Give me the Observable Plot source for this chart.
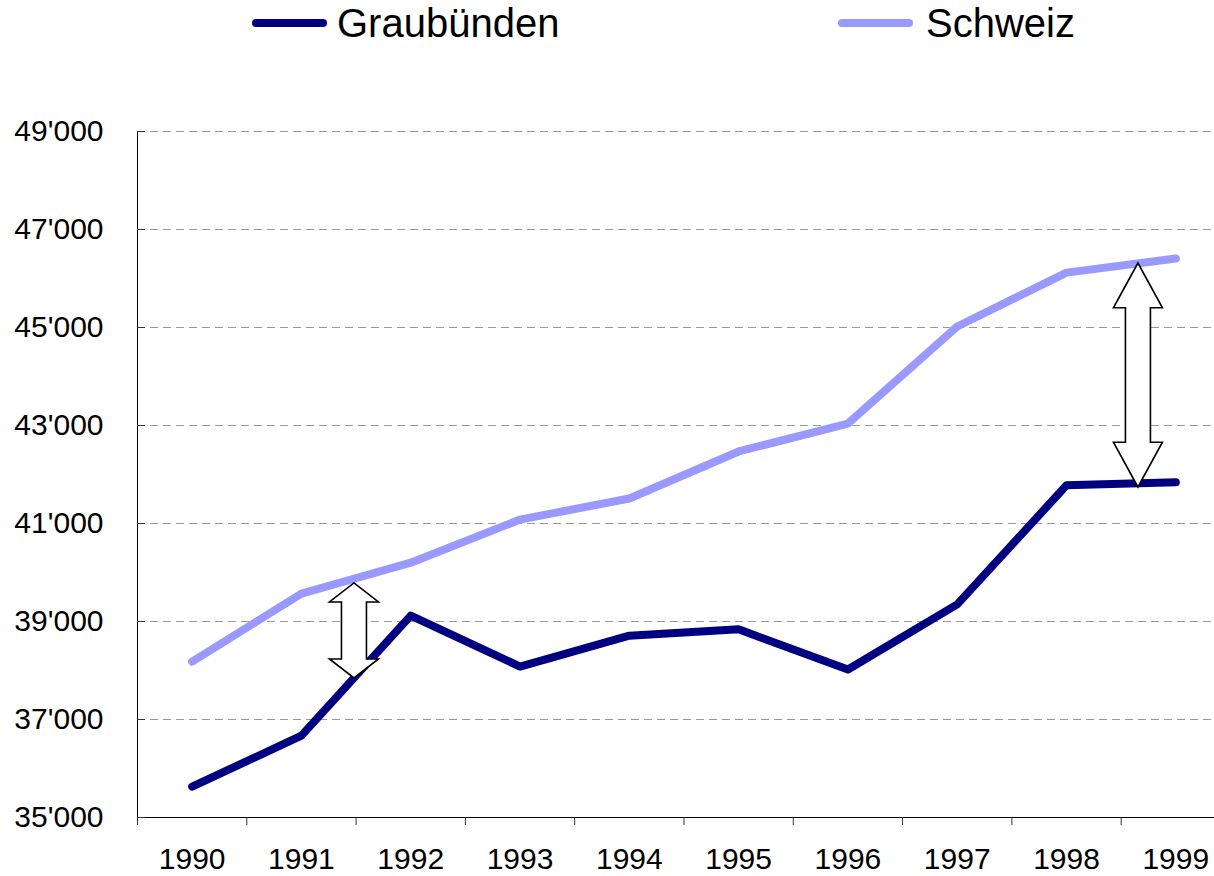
<!DOCTYPE html>
<html><head><meta charset="utf-8">
<script src="https://cdn.jsdelivr.net/npm/d3@7"></script>
<script src="https://cdn.jsdelivr.net/npm/@observablehq/plot@0.6"></script>
<style>
body{margin:0;background:#fff;font-family:"Liberation Sans",Arial,sans-serif;}
#legend{position:relative;height:60px;width:1214px;}
.sw{position:absolute;height:8px;border-radius:4px;top:19px;width:75px}
.lt{position:absolute;top:3px;font-size:40px;line-height:40px;color:#000;white-space:nowrap}
</style></head><body>
<div id="legend"></div>
<div id="chart"></div>
<script>
const years = [1990, 1991, 1992, 1993, 1994, 1995, 1996, 1997, 1998, 1999];
const graubuenden = [35630, 36670, 39120, 38080, 38710, 38840, 38020, 39350, 41780, 41840];
const schweiz = [38180, 39570, 40200, 41080, 41510, 42470, 43040, 45020, 46120, 46410];
const seriesNames = ["Graubünden", "Schweiz"];
const seriesColors = ["#000080", "#9999ff"];
const yTicks = [35000, 37000, 39000, 41000, 43000, 45000, 47000, 49000];
const arrowX = [1991.485, 1998.658];
const arrowTop = [39776, 46306];
const arrowBottom = [37837, 41735];

const rows = [];
years.forEach((yr, i) => {
  rows.push({year: yr, value: graubuenden[i], series: seriesNames[0]});
  rows.push({year: yr, value: schweiz[i], series: seriesNames[1]});
});
const arrows = arrowX.map((x, i) => ({x, top: arrowTop[i], bottom: arrowBottom[i]}));
const boundaries = years.map(y => y - 0.5);
const fmt = d => d3.format(",")(d).replace(",", "'");

// legend
const legend = document.getElementById("legend");
const legendPos = [[252, 337], [838, 926]];
seriesNames.forEach((name, i) => {
  const sw = document.createElement("div");
  sw.className = "sw"; sw.style.left = legendPos[i][0] + "px"; sw.style.background = seriesColors[i];
  legend.appendChild(sw);
  const t = document.createElement("div");
  t.className = "lt"; t.style.left = legendPos[i][1] + "px"; t.textContent = name;
  legend.appendChild(t);
});

function arrowMark(index, scales) {
  const g = d3.create("svg:g");
  for (const a of arrows) {
    const cx = scales.x(a.x), y1 = scales.y(a.top), y2 = scales.y(a.bottom);
    const L = y2 - y1, h = 0.2 * L, hw = 24.5, sw = 12.5;
    const pts = [
      [cx, y1], [cx + hw, y1 + h], [cx + sw, y1 + h], [cx + sw, y2 - h], [cx + hw, y2 - h],
      [cx, y2], [cx - hw, y2 - h], [cx - sw, y2 - h], [cx - sw, y1 + h], [cx - hw, y1 + h]
    ];
    g.append("polygon").attr("points", pts.map(p => p.join(",")).join(" "))
      .attr("fill", "#fff").attr("stroke", "#000").attr("stroke-width", 1.6).attr("stroke-linejoin", "miter");
  }
  return g.node();
}

const chart = Plot.plot({
  width: 1214, height: 816,
  marginLeft: 137, marginRight: 0, marginTop: 71, marginBottom: 59,
  style: {fontFamily: '"Liberation Sans", Arial, sans-serif', fontSize: "30px", color: "#000", background: "#fff"},
  x: {type: "linear", domain: [1989.5, 1999.354], label: null},
  y: {domain: [35000, 49000], label: null},
  color: {domain: seriesNames, range: seriesColors},
  marks: [
    Plot.gridY(yTicks.slice(1), {stroke: "#999", strokeOpacity: 1, strokeDasharray: "8,5", strokeWidth: 1}),
    Plot.ruleY([35000], {stroke: "#000", strokeWidth: 1}),
    Plot.ruleX([1989.5], {y1: 35000, y2: 49000, stroke: "#000", strokeWidth: 1}),
    Plot.axisY(yTicks, {tickSize: 0, tickPadding: 34, tickFormat: fmt, fontSize: 30, label: null}),
    Plot.axisY(yTicks, {tickSize: 8, dx: 8, tickFormat: () => "", label: null, stroke: "#333"}),
    Plot.axisX(years, {tickSize: 0, tickPadding: 30, tickFormat: d => String(d), fontSize: 30, label: null}),
    Plot.axisX(boundaries, {tickSize: 8, tickFormat: () => "", label: null, stroke: "#333"}),
    Plot.lineY(rows, {x: "year", y: "value", z: "series", stroke: "series", strokeWidth: 8, strokeLinecap: "round", strokeLinejoin: "round"}),
    arrowMark
  ]
});
document.getElementById("chart").appendChild(chart);
</script>
</body></html>
